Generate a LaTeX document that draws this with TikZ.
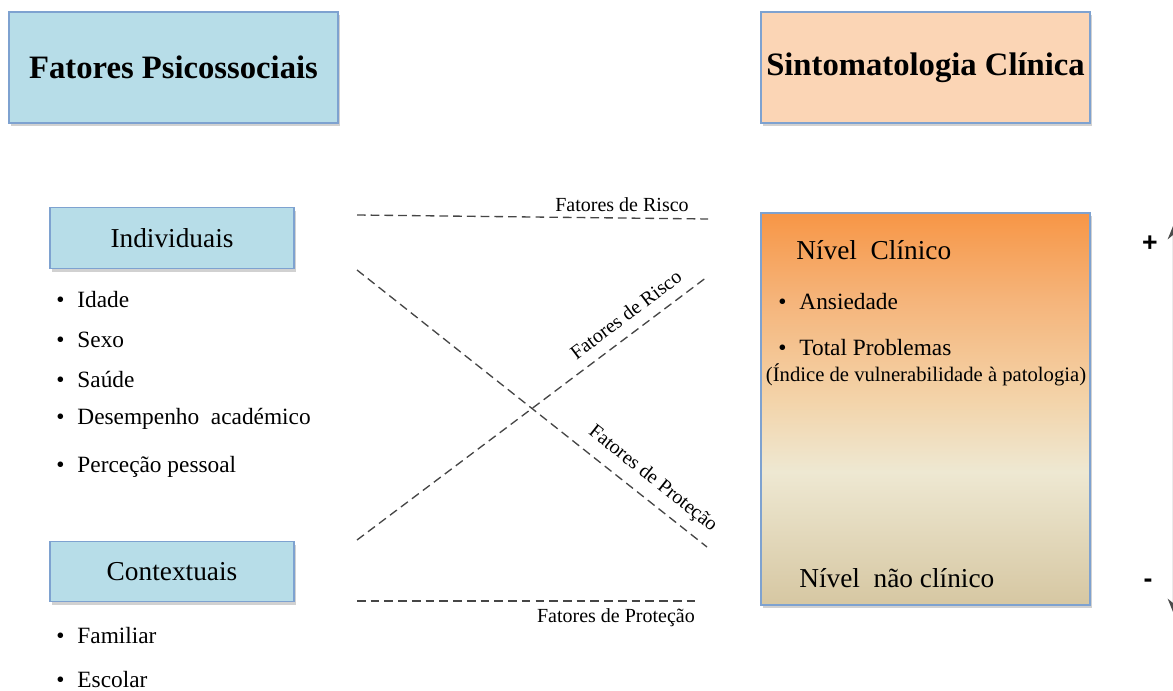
\documentclass[tikz,border=0pt]{standalone}
\usepackage{fontspec}
\setmainfont{Liberation Serif}
\newfontfamily\sinais{Liberation Sans}
\usetikzlibrary{arrows.meta,shadows}
\definecolor{azul}{RGB}{183,221,232}
\definecolor{pessego}{RGB}{251,213,181}
\definecolor{borda}{RGB}{126,162,208}
\definecolor{laranja}{RGB}{247,150,70}
\definecolor{laranjaclaro}{RGB}{245,180,122}
\definecolor{salmao}{RGB}{243,212,170}
\definecolor{creme}{RGB}{238,232,210}
\definecolor{areia}{RGB}{214,199,162}
\definecolor{traco}{RGB}{70,70,70}
% degrade do nivel clinico (de baixo para cima)
\pgfdeclareverticalshading{niveis}{100bp}{color(0bp)=(areia); color(25bp)=(areia); color(42bp)=(creme); color(51bp)=(salmao); color(64bp)=(laranjaclaro); color(75bp)=(laranja); color(100bp)=(laranja)}

\begin{document}
\begin{tikzpicture}[x=0.75pt,y=-0.75pt,
	sombra/.style={drop shadow={shadow xshift=1.5pt,shadow yshift=-2.5pt,opacity=0.3,fill=black!60}},
	titulo/.style={draw=borda,line width=0.8pt,minimum width=246.75pt,minimum height=83.25pt,font=\fontsize{24.5}{28}\selectfont\bfseries,sombra},
	grupo/.style={draw=borda,line width=0.8pt,fill=azul,minimum width=183pt,minimum height=45.5pt,font=\fontsize{20.5}{24}\selectfont,sombra},
	item/.style={anchor=west,inner sep=0pt,font=\fontsize{17.5}{21}\selectfont},
	nivel/.style={anchor=west,inner sep=0pt,font=\fontsize{20.5}{24}\selectfont},
	fator/.style={font=\fontsize{15}{18}\selectfont},
	ligacao/.style={draw=traco,line width=1pt,dash pattern=on 6.5pt off 3.8pt},
	sinal/.style={font=\sinais\fontsize{20}{24}\selectfont\bfseries}]
				\useasboundingbox (0,0) rectangle (1173,691);
				
				% titulos
				\node[titulo,fill=azul] (psico) at (173.5,67.5) {Fatores Psicossociais};
				\node[titulo,fill=pessego] (sinto) at (925.5,67.5) {Sintomatologia Clínica};
				
				% fatores individuais
				\node[grupo] (indiv) at (172,238) {Individuais};
				\node[item] (i1) at (56,300) {\textbullet\hspace{9.75pt}Idade};
				\node[item] (i2) at (56,340) {\textbullet\hspace{9.75pt}Sexo};
				\node[item] (i3) at (56,380) {\textbullet\hspace{9.75pt}Saúde};
				\node[item] (i4) at (56,419) {\textbullet\hspace{9.75pt}Desempenho~~académico};
				\node[item] (i5) at (56,467) {\textbullet\hspace{9.75pt}Perceção pessoal};
				
				% fatores contextuais
				\node[grupo] (contx) at (172,571.5) {Contextuais};
				\node[item] (c1) at (56,636) {\textbullet\hspace{9.75pt}Familiar};
				\node[item] (c2) at (56,680) {\textbullet\hspace{9.75pt}Escolar};
				
				% caixa dos niveis
				\node[draw=borda,line width=0.8pt,shading=niveis,minimum width=246.75pt,minimum height=294pt,sombra] (clin) at (925.5,409) {};
				\node[nivel] (n1) at (796,250) {Nível~~Clínico};
				\node[item] (a1) at (778,302) {\textbullet\hspace{9.75pt}Ansiedade};
				\node[item] (a2) at (778,348) {\textbullet\hspace{9.75pt}Total Problemas};
				\node[fator,font=\fontsize{15.5}{18}\selectfont] (a3) at (926,375) {(Índice de vulnerabilidade à patologia)};
				\node[nivel] (n2) at (799,578) {Nível~~não clínico};
				
				% ligacoes tracejadas
				\coordinate (r1) at (357,215);
				\coordinate (r2) at (708,219);
				\coordinate (d1) at (357,270);
				\coordinate (d2) at (707,547);
				\coordinate (e1) at (357,540);
				\coordinate (e2) at (707,277);
				\coordinate (p1) at (357,601);
				\coordinate (p2) at (700,601);
				\draw[ligacao] (r1) -- node[fator,pos=0.755,above=1pt]{Fatores de Risco} (r2);
				\draw[ligacao] (d1) -- node[fator,pos=0.81,sloped,above=4pt]{Fatores de Proteção} (d2);
				\draw[ligacao] (e1) -- node[fator,pos=0.80,sloped,above=5pt]{Fatores de Risco} (e2);
				\draw[ligacao] (p1) -- node[fator,pos=0.755,below=2pt]{Fatores de Proteção} (p2);
				
				% escala + / -
				\node[sinal] (mais) at (1150,244) {+};
				\node[sinal] (menos) at (1148,583) {-};
				\coordinate (topo) at (1173,226);
				\coordinate (base) at (1173,612);
				\draw[black!8,line width=1pt,{Stealth[length=10pt,width=8pt,black!70]}-{Stealth[length=10pt,width=8pt,black!70]}] (topo) -- (base);
			\end{tikzpicture}
\end{document}
